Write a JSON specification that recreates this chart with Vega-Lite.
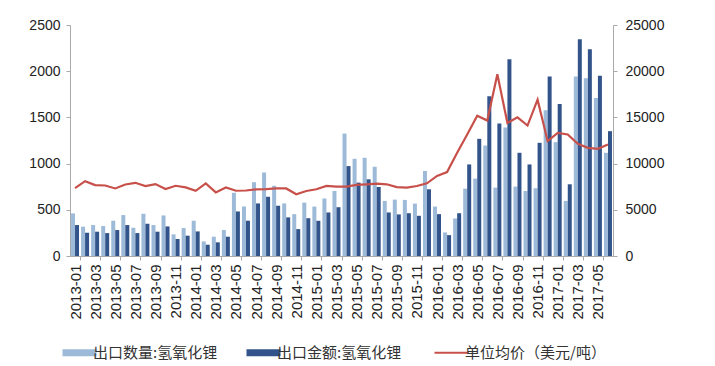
{
  "$schema": "https://vega.github.io/schema/vega-lite/v6.json",
  "width": 543,
  "height": 231,
  "autosize": "none",
  "padding": {"left": 70, "top": 25, "right": 102, "bottom": 110},
  "background": "white",
  "config": {
    "view": {"stroke": null},
    "axis": {"labelFont": "Liberation Sans", "labelColor": "#222", "domainColor": "#aaa", "tickColor": "#aaa", "grid": false, "title": null},
    "legend": {"labelFont": "Noto Sans CJK SC", "labelColor": "#333"}
  },
  "data": {"values": [
    {"m": "2013-01", "q": 461, "a": 3350, "p": 7340},
    {"m": "2013-02", "q": 317, "a": 2520, "p": 8100},
    {"m": "2013-03", "q": 335, "a": 2630, "p": 7670},
    {"m": "2013-04", "q": 324, "a": 2480, "p": 7630},
    {"m": "2013-05", "q": 382, "a": 2810, "p": 7310},
    {"m": "2013-06", "q": 443, "a": 3350, "p": 7740},
    {"m": "2013-07", "q": 306, "a": 2480, "p": 7920},
    {"m": "2013-08", "q": 457, "a": 3490, "p": 7560},
    {"m": "2013-09", "q": 335, "a": 2630, "p": 7780},
    {"m": "2013-10", "q": 439, "a": 3200, "p": 7240},
    {"m": "2013-11", "q": 234, "a": 1840, "p": 7600},
    {"m": "2013-12", "q": 302, "a": 2200, "p": 7420},
    {"m": "2014-01", "q": 382, "a": 2660, "p": 7060},
    {"m": "2014-02", "q": 158, "a": 1220, "p": 7850},
    {"m": "2014-03", "q": 209, "a": 1480, "p": 6880},
    {"m": "2014-04", "q": 281, "a": 2090, "p": 7420},
    {"m": "2014-05", "q": 684, "a": 4820, "p": 7060},
    {"m": "2014-06", "q": 536, "a": 3820, "p": 7090},
    {"m": "2014-07", "q": 799, "a": 5690, "p": 7200},
    {"m": "2014-08", "q": 904, "a": 6410, "p": 7240},
    {"m": "2014-09", "q": 760, "a": 5440, "p": 7310},
    {"m": "2014-10", "q": 569, "a": 4180, "p": 7310},
    {"m": "2014-11", "q": 453, "a": 2910, "p": 6680},
    {"m": "2014-12", "q": 578, "a": 4090, "p": 7040},
    {"m": "2015-01", "q": 535, "a": 3810, "p": 7220},
    {"m": "2015-02", "q": 621, "a": 4710, "p": 7580},
    {"m": "2015-03", "q": 704, "a": 5280, "p": 7510},
    {"m": "2015-04", "q": 1325, "a": 9730, "p": 7510},
    {"m": "2015-05", "q": 1052, "a": 7940, "p": 7690},
    {"m": "2015-06", "q": 1063, "a": 8300, "p": 7760},
    {"m": "2015-07", "q": 966, "a": 7470, "p": 7830},
    {"m": "2015-08", "q": 596, "a": 4710, "p": 7760},
    {"m": "2015-09", "q": 610, "a": 4500, "p": 7450},
    {"m": "2015-10", "q": 607, "a": 4630, "p": 7400},
    {"m": "2015-11", "q": 567, "a": 4350, "p": 7580},
    {"m": "2015-12", "q": 920, "a": 7220, "p": 7870},
    {"m": "2016-01", "q": 535, "a": 4530, "p": 8660},
    {"m": "2016-02", "q": 255, "a": 2260, "p": 9090},
    {"m": "2016-03", "q": 406, "a": 4630, "p": 11170},
    {"m": "2016-04", "q": 729, "a": 9910, "p": 13150},
    {"m": "2016-05", "q": 837, "a": 12680, "p": 15190},
    {"m": "2016-06", "q": 1196, "a": 17280, "p": 14660},
    {"m": "2016-07", "q": 740, "a": 14330, "p": 19680},
    {"m": "2016-08", "q": 1390, "a": 21300, "p": 14400},
    {"m": "2016-09", "q": 751, "a": 11170, "p": 15010},
    {"m": "2016-10", "q": 704, "a": 9910, "p": 14120},
    {"m": "2016-11", "q": 733, "a": 12250, "p": 16920},
    {"m": "2016-12", "q": 1577, "a": 19430, "p": 12430},
    {"m": "2017-01", "q": 1232, "a": 16450, "p": 13330},
    {"m": "2017-02", "q": 596, "a": 7760, "p": 13150},
    {"m": "2017-03", "q": 1943, "a": 23460, "p": 12140},
    {"m": "2017-04", "q": 1925, "a": 22380, "p": 11710},
    {"m": "2017-05", "q": 1710, "a": 19500, "p": 11600},
    {"m": "2017-06", "q": 1117, "a": 13510, "p": 12070}
  ]},
  "encoding": {
    "x": {
      "field": "m", "type": "ordinal", "sort": null,
      "scale": {"paddingInner": 0, "paddingOuter": 0},
      "axis": {
        "labelAngle": -90, "labelFontSize": 15, "labelOverlap": false, "labelPadding": 4,
        "labelExpr": "isString(datum.value) && parseInt(slice(datum.value, 5)) % 2 == 1 ? datum.value : ''",
        "tickBand": "extent", "tickSize": 4,
        "tickOpacity": {"condition": {"test": "isString(datum.value) && parseInt(slice(datum.value, 5)) % 2 == 1", "value": 1}, "value": 0}
      }
    }
  },
  "layer": [
    {
      "mark": {"type": "bar", "width": 4, "xOffset": -2},
      "encoding": {
        "y": {"field": "q", "type": "quantitative", "scale": {"domain": [0, 2500]},
              "axis": {"orient": "left", "values": [0, 500, 1000, 1500, 2000, 2500], "format": "d", "labelFontSize": 14, "tickSize": 4, "labelPadding": 6}},
        "color": {"datum": "出口数量:氢氧化锂", "type": "nominal",
          "scale": {"domain": ["出口数量:氢氧化锂", "出口金额:氢氧化锂", "单位均价（美元/吨）"], "range": ["#9DBAD9", "#33548A", "#C8504A"]},
          "legend": {
            "orient": "none", "legendX": 2, "legendY": 320, "direction": "horizontal", "columns": 3,
            "title": null, "labelFontSize": 15, "labelOffset": 6, "columnPadding": 28,
            "symbolSize": 1156, "symbolOpacity": 1,
            "encode": {"symbols": {"update": {
              "shape": {"signal": "datum.value == '单位均价（美元/吨）' ? 'M-1,0H1' : 'M-1,-0.2H1V0.2H-1Z'"},
              "fill": {"signal": "datum.value == '单位均价（美元/吨）' ? 'transparent' : scale('color', datum.value)"},
              "stroke": {"signal": "scale('color', datum.value)"},
              "strokeWidth": {"signal": "datum.value == '单位均价（美元/吨）' ? 2 : 0"},
              "opacity": {"value": 1}
            }}}
          }}
      }
    },
    {
      "mark": {"type": "bar", "width": 4, "xOffset": 2},
      "encoding": {
        "y": {"field": "a", "type": "quantitative", "scale": {"domain": [0, 25000]},
              "axis": {"orient": "right", "values": [0, 5000, 10000, 15000, 20000, 25000], "labelFontSize": 14, "tickSize": 4, "labelPadding": 8, "format": "d"}},
        "color": {"datum": "出口金额:氢氧化锂", "type": "nominal"}
      }
    },
    {
      "mark": {"type": "line", "strokeWidth": 2.2},
      "encoding": {
        "y": {"field": "p", "type": "quantitative", "scale": {"domain": [0, 25000]}, "axis": null},
        "color": {"datum": "单位均价（美元/吨）", "type": "nominal"}
      }
    }
  ],
  "resolve": {"scale": {"y": "independent"}}
}
